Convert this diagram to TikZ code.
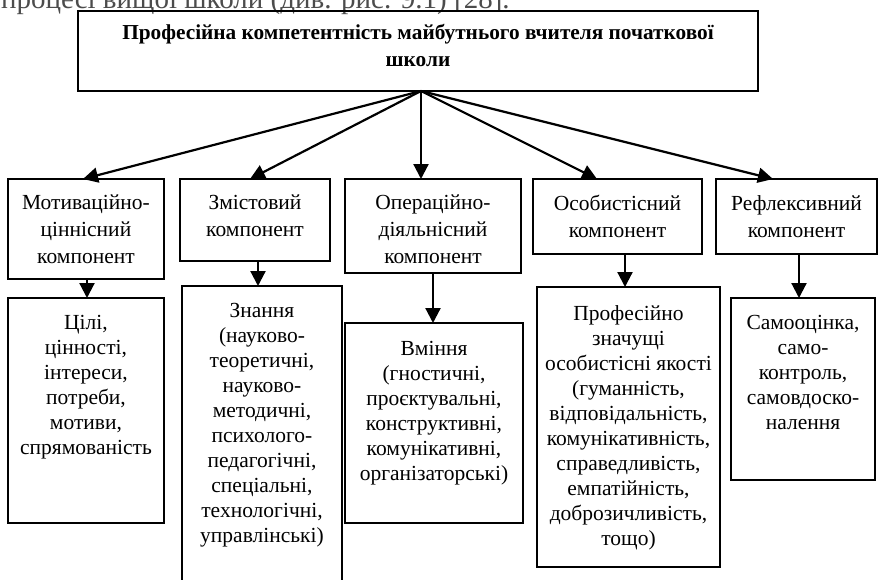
\documentclass[tikz,border=0pt]{standalone}
\usepackage{fontspec}
\setmainfont{Liberation Serif}
\usetikzlibrary{arrows.meta}
\begin{document}
\begin{tikzpicture}[x=1pt,y=-1pt,
  box/.style={draw, line width=1.8pt, inner sep=0pt, outer sep=0pt},
  arr/.style={line width=2.2pt, -{Triangle[length=15pt,width=15pt]}},
  ttl/.style={anchor=north, inner sep=0pt, align=center, font=\fontsize{21.3}{27}\selectfont\bfseries, execute at begin node=\strut},
  tb/.style={anchor=north, inner sep=0pt, align=center, font=\fontsize{21.5}{27}\selectfont, execute at begin node=\strut},
  tc/.style={anchor=north, inner sep=0pt, align=center, font=\fontsize{21.5}{25}\selectfont, execute at begin node=\strut}
]
\useasboundingbox (0,0) rectangle (878,579);
% partial text line cut at the top
\node[anchor=base west, inner sep=0pt, text=black!70, font=\fontsize{29}{33}\selectfont] (prev) at (1,8) {процесі вищої школи (див. рис. 9.1) [28].};

\node[box, minimum width=680pt, minimum height=80pt] (top) at (418,51) {};
\node[ttl] (toptxt) at ([yshift=-13pt]top.north) {Професійна компетентність майбутнього вчителя початкової\\школи};
\coordinate (apex) at (421,91);

\node[box, minimum width=156pt, minimum height=100pt] (b1) at (86,229) {};
\node[box, minimum width=150pt, minimum height=82pt] (b2) at (255,220) {};
\node[box, minimum width=176pt, minimum height=94pt] (b3) at (433,226) {};
\node[box, minimum width=169pt, minimum height=75pt] (b4) at (617.5,216.5) {};
\node[box, minimum width=161pt, minimum height=75pt] (b5) at (796.5,216.5) {};

\node[tb] (t1) at ([yshift=-16pt]b1.north) {Мотиваційно-\\ціннісний\\компонент};
\node[tb] (t2) at ([yshift=-16pt]b2.north) {Змістовий\\компонент};
\node[tb] (t3) at ([yshift=-16pt]b3.north) {Операційно-\\діяльнісний\\компонент};
\node[tb] (t4) at ([yshift=-16pt]b4.north) {Особистісний\\компонент};
\node[tb] (t5) at ([yshift=-16pt]b5.north) {Рефлексивний\\компонент};

\node[box, minimum width=156pt, minimum height=225pt] (c1) at (86,410.5) {};
\node[box, minimum width=160pt, minimum height=324pt] (c2) at (262,448) {};
\node[box, minimum width=178pt, minimum height=200pt] (c3) at (434,423) {};
\node[box, minimum width=183pt, minimum height=280pt] (c4) at (628.5,427) {};
\node[box, minimum width=144pt, minimum height=182pt] (c5) at (803,389) {};

\node[tc] (u1) at ([yshift=-17pt]c1.north) {Цілі,\\цінності,\\інтереси,\\потреби,\\мотиви,\\спрямованість};
\node[tc] (u2) at ([yshift=-17pt]c2.north) {Знання\\(науково-\\теоретичні,\\науково-\\методичні,\\психолого-\\педагогічні,\\спеціальні,\\технологічні,\\управлінські)};
\node[tc] (u3) at ([yshift=-18pt]c3.north) {Вміння\\(гностичні,\\проєктувальні,\\конструктивні,\\комунікативні,\\організаторські)};
\node[tc] (u4) at ([yshift=-18pt]c4.north) {Професійно\\значущі\\особистісні якості\\(гуманність,\\відповідальність,\\комунікативність,\\справедливість,\\емпатійність,\\доброзичливість,\\тощо)};
\node[tc] (u5) at ([yshift=-17pt]c5.north) {Самооцінка,\\само-\\контроль,\\самовдоско-\\налення};

\draw[arr] (apex) -- ([xshift=-3pt]b1.north);
\draw[arr] (apex) -- ([xshift=-5pt]b2.north);
\draw[arr] (apex) -- ([xshift=-12pt]b3.north);
\draw[arr] (apex) -- ([xshift=-20.5pt]b4.north);
\draw[arr] (apex) -- ([xshift=-23.5pt]b5.north);

\draw[arr] ([xshift=1pt]b1.south) -- ([xshift=1pt]b1.south |- c1.north);
\draw[arr] ([xshift=3pt]b2.south) -- ([xshift=3pt]b2.south |- c2.north);
\draw[arr] (b3.south) -- (b3.south |- c3.north);
\draw[arr] ([xshift=7.5pt]b4.south) -- ([xshift=7.5pt]b4.south |- c4.north);
\draw[arr] ([xshift=2.5pt]b5.south) -- ([xshift=2.5pt]b5.south |- c5.north);
\end{tikzpicture}
\end{document}
